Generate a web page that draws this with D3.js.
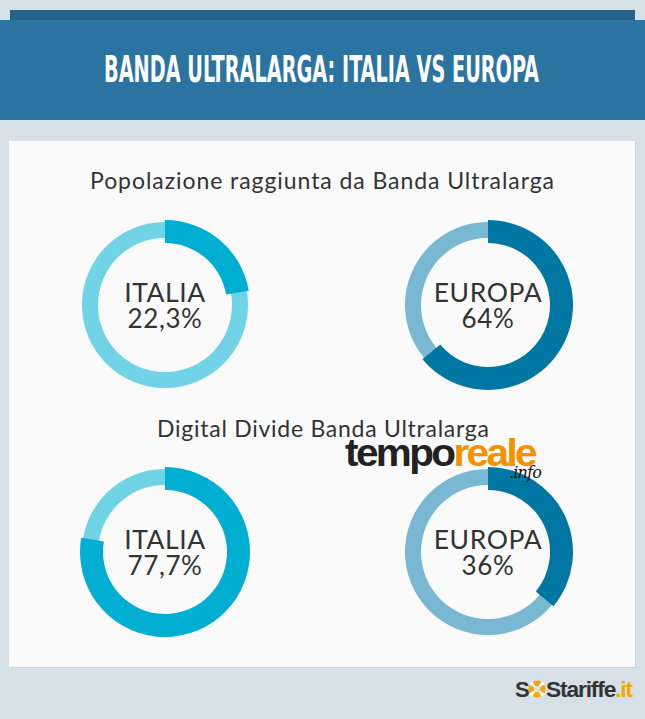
<!DOCTYPE html>
<html><head><meta charset="utf-8">
<script src="https://cdn.jsdelivr.net/npm/d3@7"></script>
<style>html,body{margin:0;padding:0;background:#d5e0e7;}svg{display:block;}</style>
</head><body>
<script>
const title = "BANDA ULTRALARGA: ITALIA VS EUROPA";
const sectionTitles = ["Popolazione raggiunta da Banda Ultralarga", "Digital Divide Banda Ultralarga"];
const regions = ["ITALIA", "EUROPA"];
const popolazione = [22.3, 64];
const digitalDivide = [77.7, 36];
const valueLabels = [["22,3%", "64%"], ["77,7%", "36%"]];
const lightColors = ["#71d3e6", "#79b8d2"];
const darkColors = ["#00aed1", "#0077a2"];

const W = 645, H = 719;
const svg = d3.select("body").append("svg").attr("width", W).attr("height", H);

svg.append("rect").attr("width", W).attr("height", H).attr("fill", "#d5e0e7");
// header
svg.append("rect").attr("x", 10).attr("y", 10).attr("width", 625).attr("height", 12).attr("fill", "#256189");
svg.append("rect").attr("x", 0).attr("y", 20).attr("width", W).attr("height", 100).attr("fill", "#2b73a0");
svg.append("text").attr("x", 104).attr("y", 82)
  .attr("font-family", "'Liberation Sans Narrow', 'DejaVu Sans Condensed', sans-serif")
  .attr("font-weight", 700).attr("font-size", 37).attr("fill", "#ffffff")
  .attr("textLength", 435).attr("lengthAdjust", "spacingAndGlyphs")
  .text(title);

// panel
svg.append("rect").attr("x", 10).attr("y", 142).attr("width", 626).attr("height", 526).attr("fill", "#c9d3da");
svg.append("rect").attr("x", 9).attr("y", 141).attr("width", 626).attr("height", 526).attr("fill", "#fafafa");

// section titles
const titleY = [189, 437];
const titleX = [90, 157];
const titleLen = [464, 332];
sectionTitles.forEach((t, i) => {
  svg.append("text").attr("x", titleX[i]).attr("y", titleY[i])
    .attr("font-family", "Lato, 'Open Sans', sans-serif").attr("font-size", 23)
    .attr("textLength", titleLen[i]).attr("lengthAdjust", "spacing")
    .attr("fill", "#333").text(t);
});

const angle = d3.scaleLinear().domain([0, 100]).range([0, 2 * Math.PI]);
const xPos = d3.scalePoint().domain(regions).range([165, 488]);
const rowY = d3.scalePoint().domain([0, 1]).range([305, 552]);

const lightArc = d3.arc().innerRadius(67).outerRadius(83);
const darkArc = d3.arc().innerRadius(62).outerRadius(85);

[popolazione, digitalDivide].forEach((vals, row) => {
  vals.forEach((v, i) => {
    const g = svg.append("g").attr("transform", `translate(${xPos(regions[i])},${rowY(row)})`);
    g.append("path").attr("d", lightArc({startAngle: 0, endAngle: 2 * Math.PI})).attr("fill", lightColors[i]);
    g.append("path").attr("d", darkArc({startAngle: 0, endAngle: angle(v)})).attr("fill", darkColors[i]);
    g.append("text").attr("y", -3).attr("text-anchor", "middle")
      .attr("font-family", "Lato, sans-serif").attr("font-size", 26.5).attr("fill", "#333")
      .attr("letter-spacing", 0.6)
      .text(regions[i]);
    g.append("text").attr("y", 23).attr("text-anchor", "middle")
      .attr("font-family", "Lato, sans-serif").attr("font-size", 26).attr("fill", "#333")
      .attr("letter-spacing", 0.6)
      .text(valueLabels[row][i]);
  });
});

// temporeale logo
const tl = svg.append("text").attr("x", 345).attr("y", 466)
  .attr("font-family", "'Liberation Sans', Arial, sans-serif").attr("font-weight", 700)
  .attr("font-size", 39).attr("letter-spacing", -2.5).attr("textLength", 190).attr("lengthAdjust", "spacingAndGlyphs");
tl.append("tspan").attr("fill", "#222").text("tempo");
tl.append("tspan").attr("fill", "#f39200").text("reale");
svg.append("text").attr("x", 509).attr("y", 478)
  .attr("font-family", "'DejaVu Serif', serif").attr("font-style", "italic")
  .attr("font-size", 16).attr("fill", "#111").attr("letter-spacing", -0.8).text(".info");

// SOStariffe logo
const sx = 515, sy = 697;
svg.append("text").attr("x", sx).attr("y", sy)
  .attr("font-family", "'Liberation Sans', Arial, sans-serif").attr("font-weight", 700)
  .attr("font-size", 22).attr("fill", "#333").text("S");
const ring = svg.append("g").attr("transform", `translate(${sx + 22},${sy - 8})`);
ring.append("circle").attr("r", 8.5).attr("fill", "#f7a600");
ring.append("circle").attr("r", 3.2).attr("fill", "#d5e0e7");
[45, 135, 225, 315].forEach(a => {
  ring.append("path").attr("d", d3.arc().innerRadius(3).outerRadius(9)({startAngle: (a - 14) * Math.PI / 180, endAngle: (a + 14) * Math.PI / 180}))
    .attr("fill", "#ffffff");
});
const st = svg.append("text").attr("x", sx + 31).attr("y", sy)
  .attr("font-family", "'Liberation Sans', Arial, sans-serif").attr("font-weight", 700)
  .attr("font-size", 22).attr("letter-spacing", -1.1).attr("textLength", 86).attr("lengthAdjust", "spacingAndGlyphs");
st.append("tspan").attr("fill", "#333").text("Stariffe");
st.append("tspan").attr("fill", "#f7a600").text(".it");
</script>
</body></html>
